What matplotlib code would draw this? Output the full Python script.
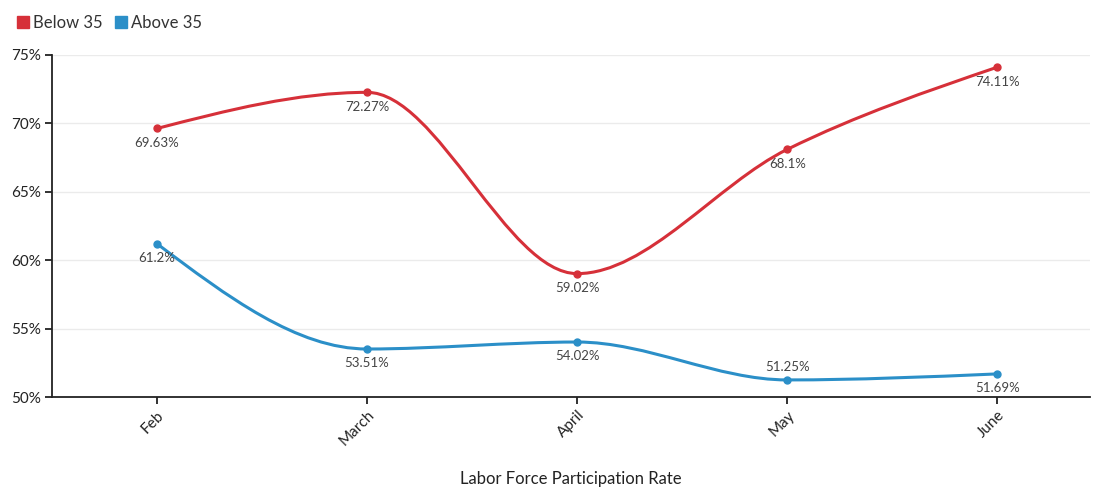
import numpy as np
import matplotlib.pyplot as plt
from matplotlib.path import Path
from matplotlib.patches import PathPatch
from matplotlib.lines import Line2D

months = ['Feb', 'March', 'April', 'May', 'June']
below_35 = [69.63, 72.27, 59.02, 68.1, 74.11]
above_35 = [61.2, 53.51, 54.02, 51.25, 51.69]
# label above the point (True) or below it (False)
above_label = [False, False, False, True, False]

RED = '#d63039'
BLUE = '#2b8fc8'

plt.rcParams['font.family'] = ['Lato', 'DejaVu Sans']


def monotone_path(x, y):
    # d3 curveMonotoneX style
    x = np.asarray(x, float)
    y = np.asarray(y, float)
    n = len(x)
    h = np.diff(x)
    s = np.diff(y) / h
    t = np.zeros(n)
    for i in range(1, n - 1):
        p = (s[i - 1] * h[i] + s[i] * h[i - 1]) / (h[i - 1] + h[i])
        t[i] = (np.sign(s[i - 1]) + np.sign(s[i])) * min(abs(s[i - 1]), abs(s[i]), 0.5 * abs(p))
    t[0] = (3 * s[0] - t[1]) / 2
    t[-1] = (3 * s[-1] - t[-2]) / 2
    verts = [(x[0], y[0])]
    codes = [Path.MOVETO]
    for i in range(n - 1):
        dx = h[i] / 3
        verts += [(x[i] + dx, y[i] + dx * t[i]), (x[i + 1] - dx, y[i + 1] - dx * t[i + 1]), (x[i + 1], y[i + 1])]
        codes += [Path.CURVE4] * 3
    return Path(verts, codes)


fig = plt.figure(figsize=(10.93, 4.91), dpi=100)
ax = fig.add_axes([0.0476, 0.1914, 0.9494, 0.6966])

xs = np.arange(len(months))
for vals, col, ups in [(below_35, RED, [False] * 5), (above_35, BLUE, above_label)]:
    ax.add_patch(PathPatch(monotone_path(xs, vals), fill=False, edgecolor=col, lw=2.2, zorder=3))
    ax.plot(xs, vals, 'o', color=col, ms=5, zorder=4)
    for xi, v, up in zip(xs, vals, ups):
        ax.annotate('{:g}%'.format(v), (xi, v), xytext=(0, 5 if up else -6), textcoords='offset points',
                    ha='center', va='bottom' if up else 'top', fontsize=9.5, color='#444444', zorder=5)

ax.set_xlim(-0.5, 4.44)
ax.set_ylim(50, 75)
ax.set_yticks([50, 55, 60, 65, 70, 75])
ax.set_yticklabels(['{}%'.format(v) for v in [50, 55, 60, 65, 70, 75]], fontsize=11, color='#222222')
ax.set_xticks(xs)
ax.set_xticklabels(months, rotation=45, ha='right', rotation_mode='anchor', fontsize=11, color='#222222')
ax.grid(axis='y', color='#ebebeb', lw=1)
ax.set_axisbelow(True)
for sp in ['top', 'right']:
    ax.spines[sp].set_visible(False)
for sp in ['left', 'bottom']:
    ax.spines[sp].set_color('#222222')
    ax.spines[sp].set_linewidth(1.3)
ax.tick_params(length=5, width=1.3, color='#222222', pad=3)
ax.set_xlabel('Labor Force Participation Rate', fontsize=12, color='#222222', labelpad=16)

handles = [Line2D([], [], marker='s', ls='', color=RED, ms=9),
           Line2D([], [], marker='s', ls='', color=BLUE, ms=9)]
fig.legend(handles, ['Below 35', 'Above 35'], loc='upper left', bbox_to_anchor=(0.0, 1.0),
           ncol=2, frameon=False, fontsize=12, handletextpad=0.1, columnspacing=0.6,
           handlelength=1.0, labelcolor='#333333')

fig.savefig('out.png', dpi=100)
